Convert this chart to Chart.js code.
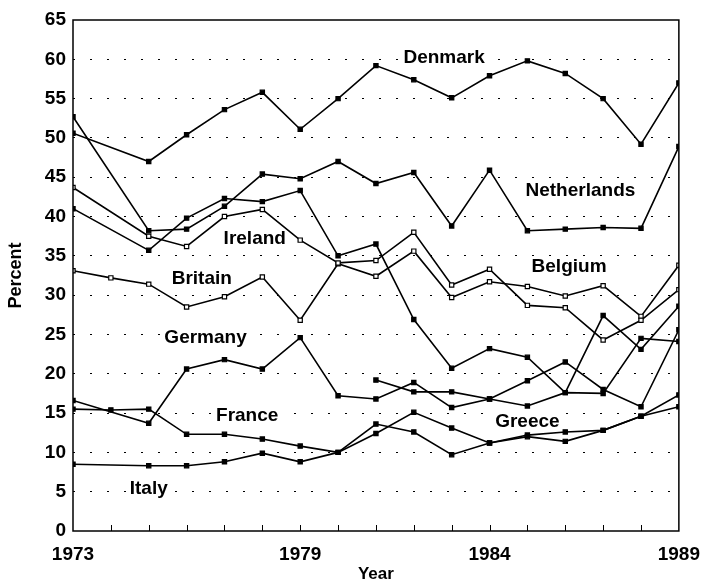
<!DOCTYPE html>
<html>
<head>
<meta charset="utf-8">
<script src="https://cdn.jsdelivr.net/npm/chart.js@4.4.1/dist/chart.umd.min.js"></script>
<style>
  html, body { margin: 0; padding: 0; background: #fff; }
</style>
</head>
<body>
<canvas id="chart" width="704" height="583"></canvas>
<script>
// survey years (1974 only has a point for a couple of countries)
const years = [1973, 1974, 1975, 1976, 1977, 1978, 1979, 1980, 1981, 1982, 1983, 1984, 1985, 1986, 1987, 1988, 1989]
const xLabels = [1973, 1979, 1984, 1989]

const denmark     = [50.6, null, 47.0, 50.4, 53.6, 55.8, 51.1, 55.0, 59.2, 57.4, 55.1, 57.9, 59.8, 58.2, 55.0, 49.2, 57.0]
const netherlands = [52.7, null, 38.2, 38.4, 41.3, 45.4, 44.8, 47.0, 44.2, 45.6, 38.8, 45.9, 38.2, 38.4, 38.6, 38.5, 48.9]
const belgium     = [41.0, null, 35.7, 39.8, 42.3, 41.9, 43.3, 35.0, 36.5, 26.9, 20.7, 23.2, 22.1, 17.6, 27.4, 23.1, 28.6]
const ireland     = [43.7, null, 37.5, 36.2, 40.0, 40.9, 37.0, 34.1, 34.4, 38.0, 31.3, 33.3, 28.7, 28.4, 24.3, 26.8, 30.7]
const britain     = [33.1, 32.2, 31.4, 28.5, 29.8, 32.3, 26.8, 34.0, 32.4, 35.6, 29.7, 31.7, 31.1, 29.9, 31.2, 27.3, 33.8]
const germany     = [16.6, null, 13.7, 20.6, 21.8, 20.6, 24.6, 17.2, 16.8, 18.9, 15.7, 16.8, 19.1, 21.5, 18.0, 15.8, 25.6]
const france      = [15.5, 15.4, 15.5, 12.3, 12.3, 11.7, 10.8, 10.0, 13.6, 12.6, 9.7, 11.2, 12.2, 12.6, 12.8, 14.6, 17.3]
const italy       = [8.5, null, 8.3, 8.3, 8.8, 9.9, 8.8, 10.0, 12.4, 15.1, 13.1, 11.2, 12.0, 11.4, 12.8, 14.6, 15.8]
const greece      = [null, null, null, null, null, null, null, null, 19.2, 17.7, 17.7, 16.8, 15.9, 17.6, 17.5, 24.5, 24.1]

// where the country names sit, in data units
const tagNames  = ['Denmark', 'Netherlands', 'Ireland', 'Belgium', 'Britain', 'Germany', 'France', 'Greece', 'Italy']
const tagYears  = [1982.8, 1986.4, 1977.8, 1986.1, 1976.4, 1976.5, 1977.6, 1985.0, 1975.0]
const tagValues = [60.3, 43.4, 37.3, 33.8, 32.2, 24.7, 14.8, 14.0, 5.5]

const FONT = '"Liberation Sans", Arial, Helvetica, sans-serif'

function series(label, values, hollow) {
    return {
        label: label,
        data: years.map((yr, i) => ({ x: yr, y: values[i] })),
        borderColor: '#000',
        backgroundColor: hollow ? '#fff' : '#000',
        borderWidth: 1.6,
        pointStyle: 'rect',
        pointRadius: 3,
        pointBorderWidth: 1.2,
        pointBorderColor: '#000',
        pointBackgroundColor: hollow ? '#fff' : '#000',
        spanGaps: true,
        tension: 0,
    }
}

const overlay = {
    id: 'overlay',
    beforeDatasetsDraw(chart) {
        const { ctx, scales: { x, y } } = chart
        ctx.save()
        ctx.font = 'bold 19px ' + FONT
        ctx.textAlign = 'center'
        ctx.textBaseline = 'middle'
        tagNames.forEach((name, i) => {
            const px = x.getPixelForValue(tagYears[i])
            const py = y.getPixelForValue(tagValues[i])
            const w = ctx.measureText(name).width
            ctx.fillStyle = '#fff'
            ctx.fillRect(px - w / 2 - 2, py - 9, w + 4, 18)
            ctx.fillStyle = '#000'
            ctx.fillText(name, px, py + 1)
        })
        ctx.restore()
    },
    afterDatasetsDraw(chart) {
        const { ctx, chartArea: a, scales: { x } } = chart
        ctx.save()
        ctx.strokeStyle = '#000'
        ctx.lineWidth = 1.5
        ctx.strokeRect(a.left, a.top, a.right - a.left, a.bottom - a.top)
        ctx.lineWidth = 1
        ctx.beginPath()
        for (let yr = years[0] + 1; yr < years[years.length - 1]; yr++) {
            const px = Math.round(x.getPixelForValue(yr)) + 0.5
            ctx.moveTo(px, a.bottom)
            ctx.lineTo(px, a.bottom - 6)
        }
        ctx.stroke()
        ctx.restore()
    }
}

const ctx = document.getElementById('chart').getContext('2d')
let chart = new Chart(ctx, {
    type: 'line',
    data: {
        datasets: [
            series('Denmark', denmark, false),
            series('Netherlands', netherlands, false),
            series('Belgium', belgium, false),
            series('Ireland', ireland, true),
            series('Britain', britain, true),
            series('Germany', germany, false),
            series('France', france, false),
            series('Italy', italy, false),
            series('Greece', greece, false),
        ],
    },
    options: {
        responsive: false,
        animation: false,
        layout: { padding: { top: 20, right: 18, bottom: 0, left: 0 } },
        plugins: {
            legend: { display: false },
            tooltip: { enabled: false },
        },
        scales: {
            x: {
                type: 'linear',
                min: 1973,
                max: 1989,
                afterBuildTicks: s => { s.ticks = xLabels.map(v => ({ value: v })) },
                afterFit: s => { s.height = 52 },
                grid: { display: false },
                border: { display: false },
                ticks: {
                    autoSkip: false,
                    maxRotation: 0,
                    padding: 4,
                    color: '#000',
                    font: { family: FONT, size: 19, weight: 'bold' },
                    callback: v => String(v),
                },
                title: {
                    display: true,
                    text: 'Year',
                    color: '#000',
                    padding: { top: 0, bottom: 0 },
                    font: { family: FONT, size: 17, weight: 'bold', lineHeight: 1 },
                },
            },
            y: {
                min: 0,
                max: 65,
                afterFit: s => { s.width = 73 },
                grid: {
                    drawTicks: false,
                    lineWidth: 1,
                    color: c => (c.tick.value === 0 || c.tick.value === 65) ? 'rgba(0,0,0,0)' : '#000',
                },
                border: { display: false, dash: [2, 15] },
                ticks: {
                    stepSize: 5,
                    padding: 7,
                    color: '#000',
                    font: { family: FONT, size: 19, weight: 'bold' },
                },
                title: {
                    display: true,
                    text: 'Percent',
                    color: '#000',
                    padding: { top: 5, bottom: 2 },
                    font: { family: FONT, size: 18, weight: 'bold' },
                },
            },
        },
    },
    plugins: [overlay],
})
</script>
</body>
</html>
